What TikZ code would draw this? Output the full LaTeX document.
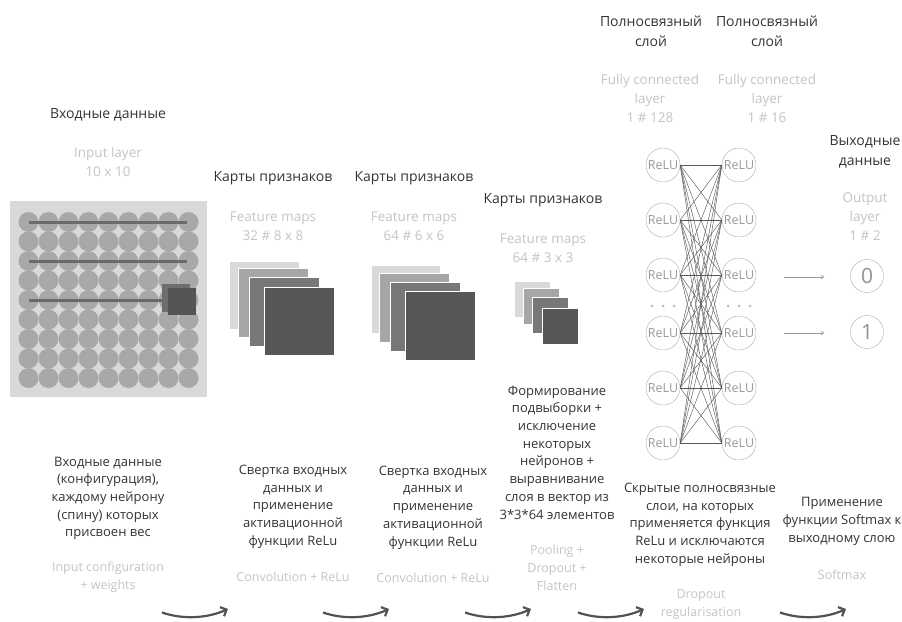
\documentclass[tikz,border=0pt]{standalone}
\usepackage{fontspec}
\setmainfont{Open Sans}
\usetikzlibrary{arrows.meta}

\definecolor{txtdark}{HTML}{333333}
\definecolor{txtgrey}{HTML}{C4C4C4}
\definecolor{gridbg}{HTML}{D9D9D9}
\definecolor{griddot}{HTML}{A8A8A8}
\definecolor{gridline}{HTML}{6A6A6A}
\definecolor{mapa}{HTML}{D9D9D9}
\definecolor{mapb}{HTML}{A6A6A6}
\definecolor{mapc}{HTML}{787878}
\definecolor{mapd}{HTML}{565656}
\definecolor{relu}{HTML}{AAAAAA}
\definecolor{dotblue}{HTML}{B4BCCB}

\begin{document}
\begin{tikzpicture}[x=1pt,y=-1pt,
  title/.style={text=txtdark,align=center,font=\fontsize{14}{20}\selectfont},
  subtitle/.style={text=txtgrey,align=center,font=\fontsize{13.5}{19}\selectfont},
  caption/.style={text=txtdark,align=center,font=\fontsize{13}{17.7}\selectfont},
  subcaption/.style={text=txtgrey,align=center,font=\fontsize{12.5}{18}\selectfont},
  fmap/.style={draw=white,line width=0.4pt},
  reluneuron/.style={circle,draw=relu,minimum size=34pt,inner sep=0pt,
    text=relu!90!black,font=\fontsize{12.5}{12.5}\selectfont},
  outneuron/.style={circle,draw=relu,minimum size=33pt,inner sep=0pt,
    text=relu!85!black,font=\fontsize{21}{21}\selectfont},
  fcline/.style={draw=black!65,line width=0.45pt},
  outarrow/.style={draw=black!40,line width=0.6pt,-{To[length=3pt,width=4pt]}},
  flow/.style={draw=black!68,line width=2.2pt,-{Straight Barb[length=5pt,width=10pt]}}]

\useasboundingbox (0,0) rectangle (902,621);

% input layer
\node[title] (intitle) at (108,115) {Входные данные};
\node[subtitle] (insub) at (108,162) {Input layer\\10 x 10};
\fill[gridbg] (10,201) rectangle (207,397);
\foreach \i in {0,...,8}
  \foreach \j in {0,...,8}
    \fill[griddot] (28.5+20*\i,222+19.5*\j) circle (10);
\draw[gridline,line width=3pt] (29,222) -- (187,222);
\draw[gridline,line width=3pt] (29,261) -- (187,261);
\draw[gridline,line width=3pt] (29,300) -- (165,300);
\fill[black!57] (162,284) rectangle (190,312);
\fill[black!67] (168,288) rectangle (196,315);

% feature maps 1
\node[title] (fmtitlea) at (273,178) {Карты признаков};
\node[subtitle] (fmsuba) at (273,226.7) {Feature maps\\32 \# 8 x 8};
\filldraw[fmap,fill=mapa] (229,261) rectangle (299,329);
\filldraw[fmap,fill=mapb] (238,268) rectangle (308,337);
\filldraw[fmap,fill=mapc] (249,277) rectangle (319,346);
\filldraw[fmap,fill=mapd] (264,287) rectangle (334,355);

% feature maps 2
\node[title] (fmtitleb) at (414,178) {Карты признаков};
\node[subtitle] (fmsubb) at (414,226.7) {Feature maps\\64 \# 6 x 6};
\filldraw[fmap,fill=mapa] (371,265) rectangle (440,333);
\filldraw[fmap,fill=mapb] (379,273) rectangle (449,342);
\filldraw[fmap,fill=mapc] (390,282) rectangle (460,351);
\filldraw[fmap,fill=mapd] (405,291) rectangle (475,360);

% feature maps 3
\node[title] (fmtitlec) at (543,200) {Карты признаков};
\node[subtitle] (fmsubc) at (543,248.5) {Feature maps\\64 \# 3 x 3};
\filldraw[fmap,fill=mapa] (514,281) rectangle (550,317);
\filldraw[fmap,fill=mapb] (523,288) rectangle (559,324);
\filldraw[fmap,fill=mapc] (532,297) rectangle (568,333);
\filldraw[fmap,fill=mapd] (542,308) rectangle (578,344);

% fully connected layers
\node[title] (fctitlea) at (651,31) {Полносвязный\\слой};
\node[title] (fctitleb) at (767,31) {Полносвязный\\слой};
\node[subtitle] (fcsuba) at (650,98) {Fully connected\\layer\\1 \# 128};
\node[subtitle] (fcsubb) at (767,98) {Fully connected\\layer\\1 \# 16};
\foreach \k/\yy in {1/165,2/220,3/275,4/333,5/388,6/443} {
  \node[reluneuron] (l\k) at (663,\yy) {ReLU};
  \node[reluneuron] (r\k) at (739,\yy) {ReLU};
}
\foreach \i in {1,...,6}
  \foreach \j in {1,...,6}
    \draw[fcline] (l\i.east) -- (r\j.west);
\foreach \xx in {652,663,674,728,739,750}
  \fill[dotblue] (\xx,306) circle (1.5);

% output layer
\node[title] (outtitle) at (865,151.5) {Выходные\\данные};
\node[subtitle] (outsub) at (865,217) {Output\\layer\\1 \# 2};
\node[outneuron] (o0) at (867,276) {0};
\node[outneuron] (o1) at (867,332) {1};
\coordinate (p0) at (784,277);
\coordinate (q0) at (824,277);
\coordinate (p1) at (784,333);
\coordinate (q1) at (824,333);
\draw[outarrow] (p0) -- (q0);
\draw[outarrow] (p1) -- (q1);

% captions
\node[caption] (capa) at (108,498.5) {Входные данные\\(конфигурация),\\каждому нейрону\\(спину) которых\\присвоен вес};
\node[subcaption] (subcapa) at (108,577.5) {Input configuration\\+ weights};
\node[caption] (capb) at (293,506.7) {Свертка входных\\данных и\\применение\\активационной\\функции ReLu};
\node[subcaption] (subcapb) at (293,576.7) {Convolution + ReLu};
\node[caption] (capc) at (433,507.5) {Свертка входных\\данных и\\применение\\активационной\\функции ReLu};
\node[subcaption] (subcapc) at (433,578) {Convolution + ReLu};
\node[caption] (capd) at (557,452.4) {Формирование\\подвыборки +\\исключение\\некоторых\\нейронов +\\выравнивание\\слоя в вектор из\\3*3*64 элементов};
\node[subcaption] (subcapd) at (557,568) {Pooling +\\Dropout +\\Flatten};
\node[caption] (cape) at (700,524.7) {Скрытые полносвязные\\слои, на которых\\применяется функция\\ReLu и исключаются\\некоторые нейроны};
\node[subcaption] (subcape) at (701,604.7) {Dropout\\regularisation};
\node[caption] (capf) at (842,521.3) {Применение\\функции Softmax к\\выходному слою};
\node[subcaption] (subcapf) at (842,574.3) {Softmax};

% flow arrows
\foreach \xs/\n in {162/1,323/2,465/3,578/4,780/5} {
  \coordinate (s\n) at (\xs,612.5);
  \coordinate (e\n) at (\xs+66,609);
  \draw[flow] (s\n) .. controls (\xs+22,620) and (\xs+46,618) .. (e\n);
}

\end{tikzpicture}
\end{document}
